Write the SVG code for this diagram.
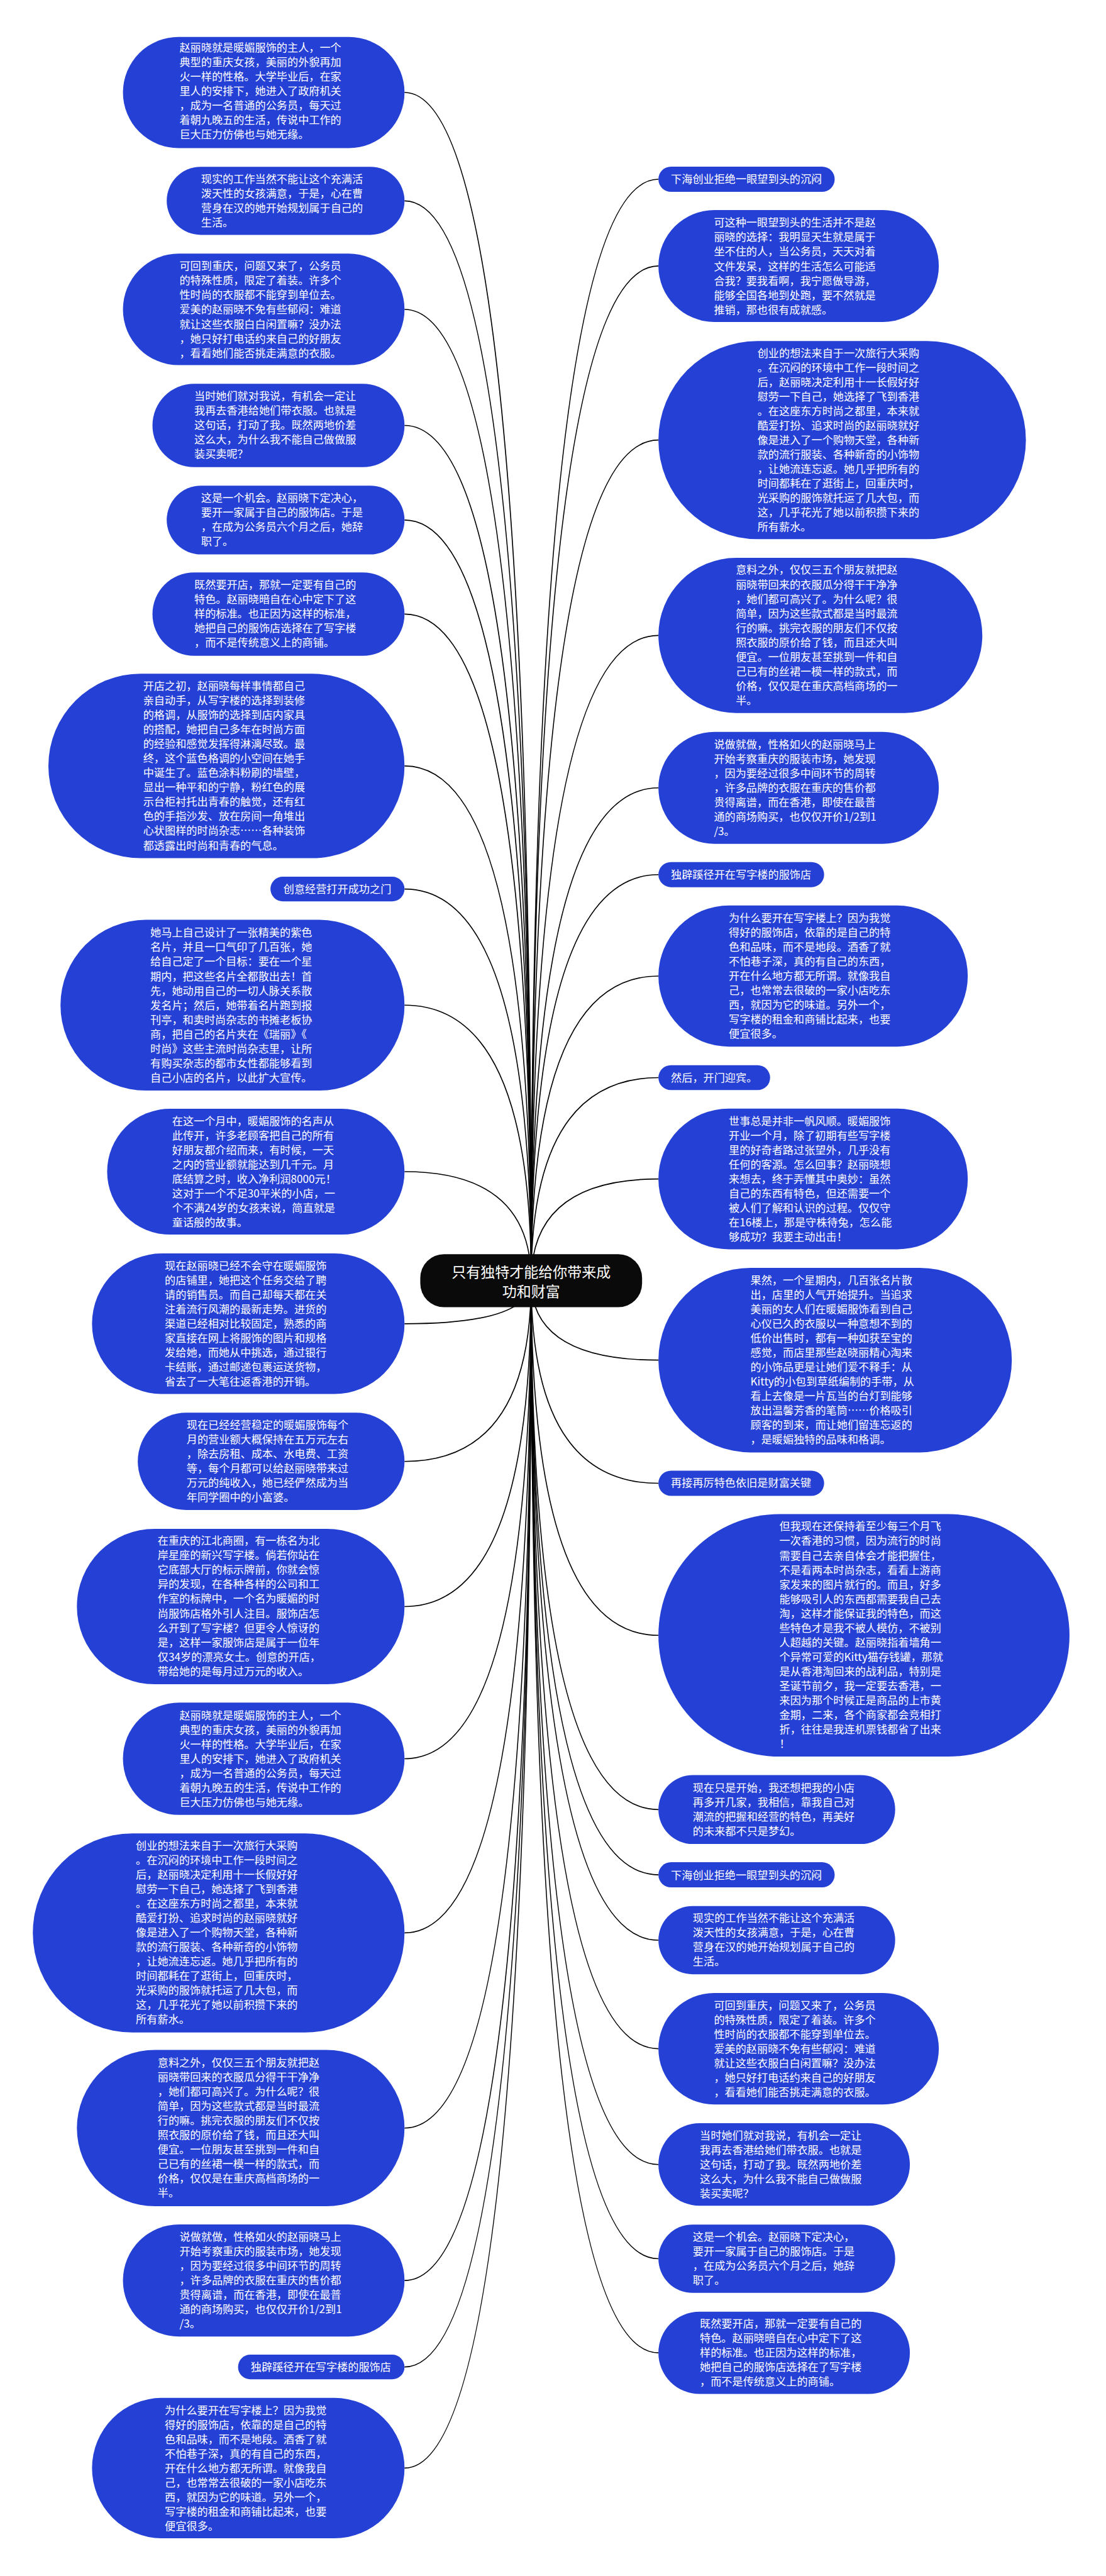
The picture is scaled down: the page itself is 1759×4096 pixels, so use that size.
<svg xmlns="http://www.w3.org/2000/svg" width="1759" height="4096" viewBox="0 0 1759 4096">
<style>
.n{fill:#2540D5}
.t{font-family:"Noto Sans CJK SC","Noto Sans",sans-serif;font-size:25px;fill:#fff}
.ct{font-family:"Noto Sans CJK SC","Noto Sans",sans-serif;font-size:33.5px;fill:#fff;text-anchor:middle}
.c{fill:none;stroke:#000;stroke-width:2.4}
</style>
<rect width="1759" height="4096" fill="#fff"/>
<g transform="scale(0.68711)">
<g id="connectors">
<path class="c" d="M1229.5 2963.7Q1229.5 214 936.3 214"/>
<path class="c" d="M1229.5 2963.7Q1229.5 464.75 936.3 464.75"/>
<path class="c" d="M1229.5 2963.7Q1229.5 716 936.3 716"/>
<path class="c" d="M1229.5 2963.7Q1229.5 984.5 936.3 984.5"/>
<path class="c" d="M1229.5 2963.7Q1229.5 1203.4 936.3 1203.4"/>
<path class="c" d="M1229.5 2963.7Q1229.5 1421 936.3 1421"/>
<path class="c" d="M1229.5 2963.7Q1229.5 1772.5 936.3 1772.5"/>
<path class="c" d="M1229.5 2963.7Q1229.5 2057.3 936.3 2057.3"/>
<path class="c" d="M1229.5 2963.7Q1229.5 2326 936.3 2326"/>
<path class="c" d="M1229.5 2963.7Q1229.5 2711.4 936.3 2711.4"/>
<path class="c" d="M1229.5 2963.7Q1229.5 3063.4 936.3 3063.4"/>
<path class="c" d="M1229.5 2963.7Q1229.5 3381.9 936.3 3381.9"/>
<path class="c" d="M1229.5 2963.7Q1229.5 3717.7 936.3 3717.7"/>
<path class="c" d="M1229.5 2963.7Q1229.5 4070 936.3 4070"/>
<path class="c" d="M1229.5 2963.7Q1229.5 4473 936.3 4473"/>
<path class="c" d="M1229.5 2963.7Q1229.5 4924.6 936.3 4924.6"/>
<path class="c" d="M1229.5 2963.7Q1229.5 5277.4 936.3 5277.4"/>
<path class="c" d="M1229.5 2963.7Q1229.5 5477.5 936.3 5477.5"/>
<path class="c" d="M1229.5 2963.7Q1229.5 5711.5 936.3 5711.5"/>
<path class="c" d="M1229.5 2963.7Q1229.5 414.85 1524 414.85"/>
<path class="c" d="M1229.5 2963.7Q1229.5 615.5 1524 615.5"/>
<path class="c" d="M1229.5 2963.7Q1229.5 1018.3 1524 1018.3"/>
<path class="c" d="M1229.5 2963.7Q1229.5 1470.5 1524 1470.5"/>
<path class="c" d="M1229.5 2963.7Q1229.5 1823.2 1524 1823.2"/>
<path class="c" d="M1229.5 2963.7Q1229.5 2024 1524 2024"/>
<path class="c" d="M1229.5 2963.7Q1229.5 2258.7 1524 2258.7"/>
<path class="c" d="M1229.5 2963.7Q1229.5 2493.85 1524 2493.85"/>
<path class="c" d="M1229.5 2963.7Q1229.5 2728.3 1524 2728.3"/>
<path class="c" d="M1229.5 2963.7Q1229.5 3147.5 1524 3147.5"/>
<path class="c" d="M1229.5 2963.7Q1229.5 3432.55 1524 3432.55"/>
<path class="c" d="M1229.5 2963.7Q1229.5 3784.4 1524 3784.4"/>
<path class="c" d="M1229.5 2963.7Q1229.5 4187.6 1524 4187.6"/>
<path class="c" d="M1229.5 2963.7Q1229.5 4338.55 1524 4338.55"/>
<path class="c" d="M1229.5 2963.7Q1229.5 4489.85 1524 4489.85"/>
<path class="c" d="M1229.5 2963.7Q1229.5 4741 1524 4741"/>
<path class="c" d="M1229.5 2963.7Q1229.5 5009 1524 5009"/>
<path class="c" d="M1229.5 2963.7Q1229.5 5227 1524 5227"/>
<path class="c" d="M1229.5 2963.7Q1229.5 5444.75 1524 5444.75"/>
</g>
<g id="center">
<rect x="972.8" y="2902.3" width="513.4" height="122.7" rx="55" fill="#0a0a0a"/>
<text class="ct" y="2956"><tspan x="1229.5">只有独特才能给你带来成</tspan><tspan x="1229.5" dy="45">功和财富</tspan></text>
</g>
<g id="L1"><rect class="n" x="284.6" y="85.4" width="651.7" height="257.2" rx="128.6"/>
<text class="t" y="119.2"><tspan x="415.4">赵丽晓就是暖媚服饰的主人，一个</tspan><tspan x="415.4" dy="33.5">典型的重庆女孩，美丽的外貌再加</tspan><tspan x="415.4" dy="33.5">火一样的性格。大学毕业后，在家</tspan><tspan x="415.4" dy="33.5">里人的安排下，她进入了政府机关</tspan><tspan x="415.4" dy="33.5">，成为一名普通的公务员，每天过</tspan><tspan x="415.4" dy="33.5">着朝九晚五的生活，传说中工作的</tspan><tspan x="415.4" dy="33.5">巨大压力仿佛也与她无缘。</tspan></text></g>
<g id="L2"><rect class="n" x="385.9" y="386" width="550.4" height="157.5" rx="78.75"/>
<text class="t" y="424"><tspan x="465.4">现实的工作当然不能让这个充满活</tspan><tspan x="465.4" dy="33.5">泼天性的女孩满意，于是，心在曹</tspan><tspan x="465.4" dy="33.5">营身在汉的她开始规划属于自己的</tspan><tspan x="465.4" dy="33.5">生活。</tspan></text></g>
<g id="L3"><rect class="n" x="284.6" y="587" width="651.7" height="258" rx="129"/>
<text class="t" y="625"><tspan x="415.4">可回到重庆，问题又来了，公务员</tspan><tspan x="415.4" dy="33.5">的特殊性质，限定了着装。许多个</tspan><tspan x="415.4" dy="33.5">性时尚的衣服都不能穿到单位去。</tspan><tspan x="415.4" dy="33.5">爱美的赵丽晓不免有些郁闷：难道</tspan><tspan x="415.4" dy="33.5">就让这些衣服白白闲置嘛？没办法</tspan><tspan x="415.4" dy="33.5">，她只好打电话约来自己的好朋友</tspan><tspan x="415.4" dy="33.5">，看看她们能否挑走满意的衣服。</tspan></text></g>
<g id="L4"><rect class="n" x="352.9" y="888" width="583.4" height="193" rx="96.5"/>
<text class="t" y="926"><tspan x="449.7">当时她们就对我说，有机会一定让</tspan><tspan x="449.7" dy="33.5">我再去香港给她们带衣服。也就是</tspan><tspan x="449.7" dy="33.5">这句话，打动了我。既然两地价差</tspan><tspan x="449.7" dy="33.5">这么大，为什么我不能自己做做服</tspan><tspan x="449.7" dy="33.5">装买卖呢？</tspan></text></g>
<g id="L5"><rect class="n" x="385.9" y="1123.8" width="550.4" height="159.2" rx="79.6"/>
<text class="t" y="1161.5"><tspan x="465.4">这是一个机会。赵丽晓下定决心，</tspan><tspan x="465.4" dy="33.5">要开一家属于自己的服饰店。于是</tspan><tspan x="465.4" dy="33.5">，在成为公务员六个月之后，她辞</tspan><tspan x="465.4" dy="33.5">职了。</tspan></text></g>
<g id="L6"><rect class="n" x="352.9" y="1324.6" width="583.4" height="193" rx="96.5"/>
<text class="t" y="1362.4"><tspan x="449.7">既然要开店，那就一定要有自己的</tspan><tspan x="449.7" dy="33.5">特色。赵丽晓暗自在心中定下了这</tspan><tspan x="449.7" dy="33.5">样的标准。也正因为这样的标准，</tspan><tspan x="449.7" dy="33.5">她把自己的服饰店选择在了写字楼</tspan><tspan x="449.7" dy="33.5">，而不是传统意义上的商铺。</tspan></text></g>
<g id="L7"><rect class="n" x="112" y="1559" width="824.3" height="427" rx="213.5"/>
<text class="t" y="1597"><tspan x="331.4">开店之初，赵丽晓每样事情都自己</tspan><tspan x="331.4" dy="33.5">亲自动手，从写字楼的选择到装修</tspan><tspan x="331.4" dy="33.5">的格调，从服饰的选择到店内家具</tspan><tspan x="331.4" dy="33.5">的搭配，她把自己多年在时尚方面</tspan><tspan x="331.4" dy="33.5">的经验和感觉发挥得淋漓尽致。最</tspan><tspan x="331.4" dy="33.5">终，这个蓝色格调的小空间在她手</tspan><tspan x="331.4" dy="33.5">中诞生了。蓝色涂料粉刷的墙壁，</tspan><tspan x="331.4" dy="33.5">显出一种平和的宁静，粉红色的展</tspan><tspan x="331.4" dy="33.5">示台柜衬托出青春的触觉，还有红</tspan><tspan x="331.4" dy="33.5">色的手指沙发、放在房间一角堆出</tspan><tspan x="331.4" dy="33.5">心状图样的时尚杂志……各种装饰</tspan><tspan x="331.4" dy="33.5">都透露出时尚和青春的气息。</tspan></text></g>
<g id="L8"><rect class="n" x="626" y="2028.8" width="310.3" height="57" rx="28.5"/>
<text class="t" y="2067"><tspan x="656">创意经营打开成功之门</tspan></text></g>
<g id="L9"><rect class="n" x="140" y="2128.6" width="796.3" height="395" rx="197.5"/>
<text class="t" y="2167.7"><tspan x="348">她马上自己设计了一张精美的紫色</tspan><tspan x="348" dy="33.5">名片，并且一口气印了几百张，她</tspan><tspan x="348" dy="33.5">给自己定了一个目标：要在一个星</tspan><tspan x="348" dy="33.5">期内，把这些名片全都散出去！首</tspan><tspan x="348" dy="33.5">先，她动用自己的一切人脉关系散</tspan><tspan x="348" dy="33.5">发名片；然后，她带着名片跑到报</tspan><tspan x="348" dy="33.5">刊亭，和卖时尚杂志的书摊老板协</tspan><tspan x="348" dy="33.5">商，把自己的名片夹在《瑞丽》《</tspan><tspan x="348" dy="33.5">时尚》这些主流时尚杂志里，让所</tspan><tspan x="348" dy="33.5">有购买杂志的都市女性都能够看到</tspan><tspan x="348" dy="33.5">自己小店的名片，以此扩大宣传。</tspan></text></g>
<g id="L10"><rect class="n" x="248" y="2565.8" width="688.3" height="291.2" rx="145.6"/>
<text class="t" y="2603"><tspan x="398.4">在这一个月中，暖媚服饰的名声从</tspan><tspan x="398.4" dy="33.5">此传开，许多老顾客把自己的所有</tspan><tspan x="398.4" dy="33.5">好朋友都介绍而来，有时候，一天</tspan><tspan x="398.4" dy="33.5">之内的营业额就能达到几千元。月</tspan><tspan x="398.4" dy="33.5">底结算之时，收入净利润8000元！</tspan><tspan x="398.4" dy="33.5">这对于一个不足30平米的小店，一</tspan><tspan x="398.4" dy="33.5">个不满24岁的女孩来说，简直就是</tspan><tspan x="398.4" dy="33.5">童话般的故事。</tspan></text></g>
<g id="L11"><rect class="n" x="213" y="2900.7" width="723.3" height="325.3" rx="162.6"/>
<text class="t" y="2938.5"><tspan x="381.4">现在赵丽晓已经不会守在暖媚服饰</tspan><tspan x="381.4" dy="33.5">的店铺里，她把这个任务交给了聘</tspan><tspan x="381.4" dy="33.5">请的销售员。而自己却每天都在关</tspan><tspan x="381.4" dy="33.5">注着流行风潮的最新走势。进货的</tspan><tspan x="381.4" dy="33.5">渠道已经相对比较固定，熟悉的商</tspan><tspan x="381.4" dy="33.5">家直接在网上将服饰的图片和规格</tspan><tspan x="381.4" dy="33.5">发给她，而她从中挑选，通过银行</tspan><tspan x="381.4" dy="33.5">卡结账，通过邮递包裹运送货物，</tspan><tspan x="381.4" dy="33.5">省去了一大笔往返香港的开销。</tspan></text></g>
<g id="L12"><rect class="n" x="318.9" y="3269.3" width="617.4" height="225" rx="112.5"/>
<text class="t" y="3307"><tspan x="431.9">现在已经经营稳定的暖媚服饰每个</tspan><tspan x="431.9" dy="33.5">月的营业额大概保持在五万元左右</tspan><tspan x="431.9" dy="33.5">，除去房租、成本、水电费、工资</tspan><tspan x="431.9" dy="33.5">等，每个月都可以给赵丽晓带来过</tspan><tspan x="431.9" dy="33.5">万元的纯收入，她已经俨然成为当</tspan><tspan x="431.9" dy="33.5">年同学圈中的小富婆。</tspan></text></g>
<g id="L13"><rect class="n" x="178" y="3537.9" width="758.3" height="359.6" rx="179.8"/>
<text class="t" y="3575"><tspan x="364.9">在重庆的江北商圈，有一栋名为北</tspan><tspan x="364.9" dy="33.5">岸星座的新兴写字楼。倘若你站在</tspan><tspan x="364.9" dy="33.5">它底部大厅的标示牌前，你就会惊</tspan><tspan x="364.9" dy="33.5">异的发现，在各种各样的公司和工</tspan><tspan x="364.9" dy="33.5">作室的标牌中，一个名为暖媚的时</tspan><tspan x="364.9" dy="33.5">尚服饰店格外引人注目。服饰店怎</tspan><tspan x="364.9" dy="33.5">么开到了写字楼？但更令人惊讶的</tspan><tspan x="364.9" dy="33.5">是，这样一家服饰店是属于一位年</tspan><tspan x="364.9" dy="33.5">仅34岁的漂亮女士。创意的开店，</tspan><tspan x="364.9" dy="33.5">带给她的是每月过万元的收入。</tspan></text></g>
<g id="L14"><rect class="n" x="284.6" y="3940" width="651.7" height="260" rx="130"/>
<text class="t" y="3979"><tspan x="415.4">赵丽晓就是暖媚服饰的主人，一个</tspan><tspan x="415.4" dy="33.5">典型的重庆女孩，美丽的外貌再加</tspan><tspan x="415.4" dy="33.5">火一样的性格。大学毕业后，在家</tspan><tspan x="415.4" dy="33.5">里人的安排下，她进入了政府机关</tspan><tspan x="415.4" dy="33.5">，成为一名普通的公务员，每天过</tspan><tspan x="415.4" dy="33.5">着朝九晚五的生活，传说中工作的</tspan><tspan x="415.4" dy="33.5">巨大压力仿佛也与她无缘。</tspan></text></g>
<g id="L15"><rect class="n" x="76" y="4242.7" width="860.3" height="460.7" rx="230.3"/>
<text class="t" y="4280.5"><tspan x="314.5">创业的想法来自于一次旅行大采购</tspan><tspan x="314.5" dy="33.5">。在沉闷的环境中工作一段时间之</tspan><tspan x="314.5" dy="33.5">后，赵丽晓决定利用十一长假好好</tspan><tspan x="314.5" dy="33.5">慰劳一下自己，她选择了飞到香港</tspan><tspan x="314.5" dy="33.5">。在这座东方时尚之都里，本来就</tspan><tspan x="314.5" dy="33.5">酷爱打扮、追求时尚的赵丽晓就好</tspan><tspan x="314.5" dy="33.5">像是进入了一个购物天堂，各种新</tspan><tspan x="314.5" dy="33.5">款的流行服装、各种新奇的小饰物</tspan><tspan x="314.5" dy="33.5">，让她流连忘返。她几乎把所有的</tspan><tspan x="314.5" dy="33.5">时间都耗在了逛街上，回重庆时，</tspan><tspan x="314.5" dy="33.5">光采购的服饰就托运了几大包，而</tspan><tspan x="314.5" dy="33.5">这，几乎花光了她以前积攒下来的</tspan><tspan x="314.5" dy="33.5">所有薪水。</tspan></text></g>
<g id="L16"><rect class="n" x="178" y="4743.6" width="758.3" height="362" rx="181"/>
<text class="t" y="4782.7"><tspan x="364.9">意料之外，仅仅三五个朋友就把赵</tspan><tspan x="364.9" dy="33.5">丽晓带回来的衣服瓜分得干干净净</tspan><tspan x="364.9" dy="33.5">，她们都可高兴了。为什么呢？很</tspan><tspan x="364.9" dy="33.5">简单，因为这些款式都是当时最流</tspan><tspan x="364.9" dy="33.5">行的嘛。挑完衣服的朋友们不仅按</tspan><tspan x="364.9" dy="33.5">照衣服的原价给了钱，而且还大叫</tspan><tspan x="364.9" dy="33.5">便宜。一位朋友甚至挑到一件和自</tspan><tspan x="364.9" dy="33.5">己已有的丝裙一模一样的款式，而</tspan><tspan x="364.9" dy="33.5">价格，仅仅是在重庆高档商场的一</tspan><tspan x="364.9" dy="33.5">半。</tspan></text></g>
<g id="L17"><rect class="n" x="284.6" y="5147.7" width="651.7" height="259.3" rx="129.6"/>
<text class="t" y="5185.6"><tspan x="415.4">说做就做，性格如火的赵丽晓马上</tspan><tspan x="415.4" dy="33.5">开始考察重庆的服装市场，她发现</tspan><tspan x="415.4" dy="33.5">，因为要经过很多中间环节的周转</tspan><tspan x="415.4" dy="33.5">，许多品牌的衣服在重庆的售价都</tspan><tspan x="415.4" dy="33.5">贵得离谱，而在香港，即使在最普</tspan><tspan x="415.4" dy="33.5">通的商场购买，也仅仅开价1/2到1</tspan><tspan x="415.4" dy="33.5">/3。</tspan></text></g>
<g id="L18"><rect class="n" x="551" y="5449" width="385.3" height="57" rx="28.5"/>
<text class="t" y="5487"><tspan x="580.5">独辟蹊径开在写字楼的服饰店</tspan></text></g>
<g id="L19"><rect class="n" x="213" y="5549" width="723.3" height="325" rx="162.5"/>
<text class="t" y="5587"><tspan x="381.4">为什么要开在写字楼上？因为我觉</tspan><tspan x="381.4" dy="33.5">得好的服饰店，依靠的是自己的特</tspan><tspan x="381.4" dy="33.5">色和品味，而不是地段。酒香了就</tspan><tspan x="381.4" dy="33.5">不怕巷子深，真的有自己的东西，</tspan><tspan x="381.4" dy="33.5">开在什么地方都无所谓。就像我自</tspan><tspan x="381.4" dy="33.5">己，也常常去很破的一家小店吃东</tspan><tspan x="381.4" dy="33.5">西，就因为它的味道。另外一个，</tspan><tspan x="381.4" dy="33.5">写字楼的租金和商铺比起来，也要</tspan><tspan x="381.4" dy="33.5">便宜很多。</tspan></text></g>
<g id="R1"><rect class="n" x="1524" y="385.7" width="408" height="58.3" rx="29.1"/>
<text class="t" y="424"><tspan x="1553">下海创业拒绝一眼望到头的沉闷</tspan></text></g>
<g id="R2"><rect class="n" x="1524" y="486" width="649" height="259" rx="129.5"/>
<text class="t" y="524.6"><tspan x="1652.4">可这种一眼望到头的生活并不是赵</tspan><tspan x="1652.4" dy="33.5">丽晓的选择：我明显天生就是属于</tspan><tspan x="1652.4" dy="33.5">坐不住的人，当公务员，天天对着</tspan><tspan x="1652.4" dy="33.5">文件发呆，这样的生活怎么可能适</tspan><tspan x="1652.4" dy="33.5">合我？要我看啊，我宁愿做导游，</tspan><tspan x="1652.4" dy="33.5">能够全国各地到处跑，要不然就是</tspan><tspan x="1652.4" dy="33.5">推销，那也很有成就感。</tspan></text></g>
<g id="R3"><rect class="n" x="1524" y="789" width="850.6" height="458.6" rx="229.3"/>
<text class="t" y="826"><tspan x="1753.3">创业的想法来自于一次旅行大采购</tspan><tspan x="1753.3" dy="33.5">。在沉闷的环境中工作一段时间之</tspan><tspan x="1753.3" dy="33.5">后，赵丽晓决定利用十一长假好好</tspan><tspan x="1753.3" dy="33.5">慰劳一下自己，她选择了飞到香港</tspan><tspan x="1753.3" dy="33.5">。在这座东方时尚之都里，本来就</tspan><tspan x="1753.3" dy="33.5">酷爱打扮、追求时尚的赵丽晓就好</tspan><tspan x="1753.3" dy="33.5">像是进入了一个购物天堂，各种新</tspan><tspan x="1753.3" dy="33.5">款的流行服装、各种新奇的小饰物</tspan><tspan x="1753.3" dy="33.5">，让她流连忘返。她几乎把所有的</tspan><tspan x="1753.3" dy="33.5">时间都耗在了逛街上，回重庆时，</tspan><tspan x="1753.3" dy="33.5">光采购的服饰就托运了几大包，而</tspan><tspan x="1753.3" dy="33.5">这，几乎花光了她以前积攒下来的</tspan><tspan x="1753.3" dy="33.5">所有薪水。</tspan></text></g>
<g id="R4"><rect class="n" x="1524" y="1291" width="749.7" height="359" rx="179.5"/>
<text class="t" y="1328"><tspan x="1703">意料之外，仅仅三五个朋友就把赵</tspan><tspan x="1703" dy="33.5">丽晓带回来的衣服瓜分得干干净净</tspan><tspan x="1703" dy="33.5">，她们都可高兴了。为什么呢？很</tspan><tspan x="1703" dy="33.5">简单，因为这些款式都是当时最流</tspan><tspan x="1703" dy="33.5">行的嘛。挑完衣服的朋友们不仅按</tspan><tspan x="1703" dy="33.5">照衣服的原价给了钱，而且还大叫</tspan><tspan x="1703" dy="33.5">便宜。一位朋友甚至挑到一件和自</tspan><tspan x="1703" dy="33.5">己已有的丝裙一模一样的款式，而</tspan><tspan x="1703" dy="33.5">价格，仅仅是在重庆高档商场的一</tspan><tspan x="1703" dy="33.5">半。</tspan></text></g>
<g id="R5"><rect class="n" x="1524" y="1693.6" width="649" height="259.2" rx="129.6"/>
<text class="t" y="1732"><tspan x="1652.4">说做就做，性格如火的赵丽晓马上</tspan><tspan x="1652.4" dy="33.5">开始考察重庆的服装市场，她发现</tspan><tspan x="1652.4" dy="33.5">，因为要经过很多中间环节的周转</tspan><tspan x="1652.4" dy="33.5">，许多品牌的衣服在重庆的售价都</tspan><tspan x="1652.4" dy="33.5">贵得离谱，而在香港，即使在最普</tspan><tspan x="1652.4" dy="33.5">通的商场购买，也仅仅开价1/2到1</tspan><tspan x="1652.4" dy="33.5">/3。</tspan></text></g>
<g id="R6"><rect class="n" x="1524" y="1995" width="383.5" height="58" rx="29"/>
<text class="t" y="2033.5"><tspan x="1553">独辟蹊径开在写字楼的服饰店</tspan></text></g>
<g id="R7"><rect class="n" x="1524" y="2095.4" width="716" height="326.6" rx="163.3"/>
<text class="t" y="2134"><tspan x="1686.9">为什么要开在写字楼上？因为我觉</tspan><tspan x="1686.9" dy="33.5">得好的服饰店，依靠的是自己的特</tspan><tspan x="1686.9" dy="33.5">色和品味，而不是地段。酒香了就</tspan><tspan x="1686.9" dy="33.5">不怕巷子深，真的有自己的东西，</tspan><tspan x="1686.9" dy="33.5">开在什么地方都无所谓。就像我自</tspan><tspan x="1686.9" dy="33.5">己，也常常去很破的一家小店吃东</tspan><tspan x="1686.9" dy="33.5">西，就因为它的味道。另外一个，</tspan><tspan x="1686.9" dy="33.5">写字楼的租金和商铺比起来，也要</tspan><tspan x="1686.9" dy="33.5">便宜很多。</tspan></text></g>
<g id="R8"><rect class="n" x="1524" y="2465" width="258.5" height="57.7" rx="28.8"/>
<text class="t" y="2503"><tspan x="1553">然后，开门迎宾。</tspan></text></g>
<g id="R9"><rect class="n" x="1524" y="2565.6" width="716" height="325.4" rx="162.7"/>
<text class="t" y="2603.4"><tspan x="1686.9">世事总是并非一帆风顺。暖媚服饰</tspan><tspan x="1686.9" dy="33.5">开业一个月，除了初期有些写字楼</tspan><tspan x="1686.9" dy="33.5">里的好奇者路过张望外，几乎没有</tspan><tspan x="1686.9" dy="33.5">任何的客源。怎么回事？赵丽晓想</tspan><tspan x="1686.9" dy="33.5">来想去，终于弄懂其中奥妙：虽然</tspan><tspan x="1686.9" dy="33.5">自己的东西有特色，但还需要一个</tspan><tspan x="1686.9" dy="33.5">被人们了解和认识的过程。仅仅守</tspan><tspan x="1686.9" dy="33.5">在16楼上，那是守株待兔，怎么能</tspan><tspan x="1686.9" dy="33.5">够成功？我要主动出击！</tspan></text></g>
<g id="R10"><rect class="n" x="1524" y="2934" width="818" height="427" rx="213.5"/>
<text class="t" y="2971.7"><tspan x="1737">果然，一个星期内，几百张名片散</tspan><tspan x="1737" dy="33.5">出，店里的人气开始提升。当追求</tspan><tspan x="1737" dy="33.5">美丽的女人们在暖媚服饰看到自己</tspan><tspan x="1737" dy="33.5">心仪已久的衣服以一种意想不到的</tspan><tspan x="1737" dy="33.5">低价出售时，都有一种如获至宝的</tspan><tspan x="1737" dy="33.5">感觉，而店里那些赵晓丽精心淘来</tspan><tspan x="1737" dy="33.5">的小饰品更是让她们爱不释手：从</tspan><tspan x="1737" dy="33.5">Kitty的小包到草纸编制的手带，从</tspan><tspan x="1737" dy="33.5">看上去像是一片瓦当的台灯到能够</tspan><tspan x="1737" dy="33.5">放出温馨芳香的笔筒……价格吸引</tspan><tspan x="1737" dy="33.5">顾客的到来，而让她们留连忘返的</tspan><tspan x="1737" dy="33.5">，是暖媚独特的品味和格调。</tspan></text></g>
<g id="R11"><rect class="n" x="1524" y="3403.4" width="383.5" height="58.3" rx="29.1"/>
<text class="t" y="3441"><tspan x="1553">再接再厉特色依旧是财富关键</tspan></text></g>
<g id="R12"><rect class="n" x="1524" y="3503.8" width="951.5" height="561.2" rx="280.6"/>
<text class="t" y="3541.6"><tspan x="1804">但我现在还保持着至少每三个月飞</tspan><tspan x="1804" dy="33.5">一次香港的习惯，因为流行的时尚</tspan><tspan x="1804" dy="33.5">需要自己去亲自体会才能把握住，</tspan><tspan x="1804" dy="33.5">不是看两本时尚杂志，看看上游商</tspan><tspan x="1804" dy="33.5">家发来的图片就行的。而且，好多</tspan><tspan x="1804" dy="33.5">能够吸引人的东西都需要我自己去</tspan><tspan x="1804" dy="33.5">淘，这样才能保证我的特色，而这</tspan><tspan x="1804" dy="33.5">些特色才是我不被人模仿，不被别</tspan><tspan x="1804" dy="33.5">人超越的关键。赵丽晓指着墙角一</tspan><tspan x="1804" dy="33.5">个异常可爱的Kitty猫存钱罐，那就</tspan><tspan x="1804" dy="33.5">是从香港淘回来的战利品，特别是</tspan><tspan x="1804" dy="33.5">圣诞节前夕，我一定要去香港，一</tspan><tspan x="1804" dy="33.5">来因为那个时候正是商品的上市黄</tspan><tspan x="1804" dy="33.5">金期，二来，各个商家都会竞相打</tspan><tspan x="1804" dy="33.5">折，往往是我连机票钱都省了出来</tspan><tspan x="1804" dy="33.5">！</tspan></text></g>
<g id="R13"><rect class="n" x="1524" y="4107.9" width="548" height="159.4" rx="79.7"/>
<text class="t" y="4145.7"><tspan x="1603.6">现在只是开始，我还想把我的小店</tspan><tspan x="1603.6" dy="33.5">再多开几家，我相信，靠我自己对</tspan><tspan x="1603.6" dy="33.5">潮流的把握和经营的特色，再美好</tspan><tspan x="1603.6" dy="33.5">的未来都不只是梦幻。</tspan></text></g>
<g id="R14"><rect class="n" x="1524" y="4309.4" width="408" height="58.3" rx="29.1"/>
<text class="t" y="4348"><tspan x="1553">下海创业拒绝一眼望到头的沉闷</tspan></text></g>
<g id="R15"><rect class="n" x="1524" y="4411" width="548" height="157.7" rx="78.8"/>
<text class="t" y="4447.8"><tspan x="1603.6">现实的工作当然不能让这个充满活</tspan><tspan x="1603.6" dy="33.5">泼天性的女孩满意，于是，心在曹</tspan><tspan x="1603.6" dy="33.5">营身在汉的她开始规划属于自己的</tspan><tspan x="1603.6" dy="33.5">生活。</tspan></text></g>
<g id="R16"><rect class="n" x="1524" y="4612" width="649" height="258" rx="129"/>
<text class="t" y="4650"><tspan x="1652.4">可回到重庆，问题又来了，公务员</tspan><tspan x="1652.4" dy="33.5">的特殊性质，限定了着装。许多个</tspan><tspan x="1652.4" dy="33.5">性时尚的衣服都不能穿到单位去。</tspan><tspan x="1652.4" dy="33.5">爱美的赵丽晓不免有些郁闷：难道</tspan><tspan x="1652.4" dy="33.5">就让这些衣服白白闲置嘛？没办法</tspan><tspan x="1652.4" dy="33.5">，她只好打电话约来自己的好朋友</tspan><tspan x="1652.4" dy="33.5">，看看她们能否挑走满意的衣服。</tspan></text></g>
<g id="R17"><rect class="n" x="1524" y="4913.5" width="582" height="191" rx="95.5"/>
<text class="t" y="4951.3"><tspan x="1619.9">当时她们就对我说，有机会一定让</tspan><tspan x="1619.9" dy="33.5">我再去香港给她们带衣服。也就是</tspan><tspan x="1619.9" dy="33.5">这句话，打动了我。既然两地价差</tspan><tspan x="1619.9" dy="33.5">这么大，为什么我不能自己做做服</tspan><tspan x="1619.9" dy="33.5">装买卖呢？</tspan></text></g>
<g id="R18"><rect class="n" x="1524" y="5148" width="548" height="158" rx="79"/>
<text class="t" y="5185.7"><tspan x="1603.6">这是一个机会。赵丽晓下定决心，</tspan><tspan x="1603.6" dy="33.5">要开一家属于自己的服饰店。于是</tspan><tspan x="1603.6" dy="33.5">，在成为公务员六个月之后，她辞</tspan><tspan x="1603.6" dy="33.5">职了。</tspan></text></g>
<g id="R19"><rect class="n" x="1524" y="5349.5" width="582" height="190.5" rx="95.2"/>
<text class="t" y="5386.6"><tspan x="1619.9">既然要开店，那就一定要有自己的</tspan><tspan x="1619.9" dy="33.5">特色。赵丽晓暗自在心中定下了这</tspan><tspan x="1619.9" dy="33.5">样的标准。也正因为这样的标准，</tspan><tspan x="1619.9" dy="33.5">她把自己的服饰店选择在了写字楼</tspan><tspan x="1619.9" dy="33.5">，而不是传统意义上的商铺。</tspan></text></g>
</g>
</svg>
